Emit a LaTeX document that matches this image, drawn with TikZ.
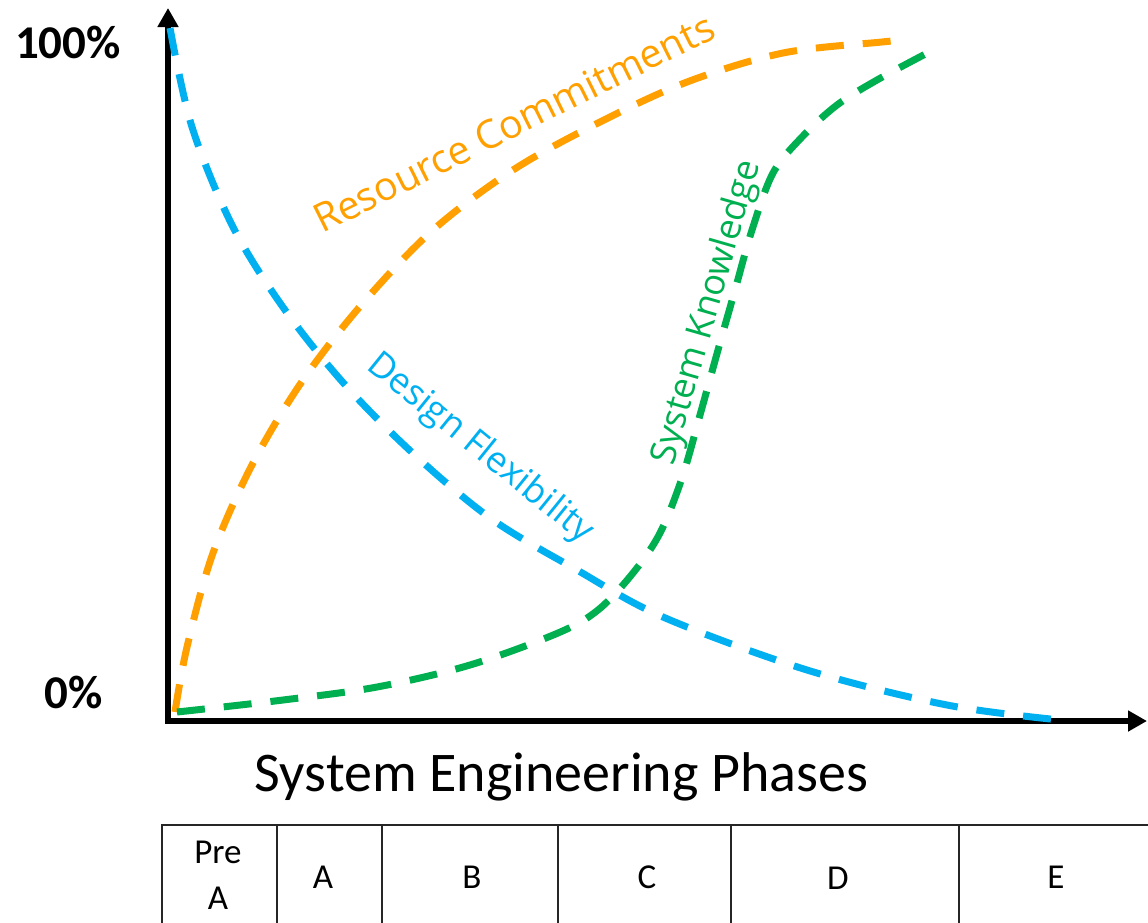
\documentclass[tikz,border=0pt]{standalone}
\usepackage{fontspec}
\setmainfont{Carlito}
\newfontfamily\curvefont{Open Sans}
\usetikzlibrary{arrows.meta}
\definecolor{flexblue}{HTML}{00B0F0}
\definecolor{resorange}{HTML}{FFA000}
\definecolor{knowgreen}{HTML}{00B050}

\begin{document}
\begin{tikzpicture}[x=1pt,y=-1pt,
  axisline/.style={line width=5.8pt, line join=miter,
    {Triangle[length=19pt,width=20pt]}-{Triangle[length=19pt,width=20pt]}},
  curve/.style={line width=7pt, dash pattern=on 28pt off 19pt},
  curvelabel/.style={font=\curvefont\fontsize{36}{40}\selectfont, inner sep=0pt, anchor=base west},
  pct/.style={font=\bfseries\fontsize{47}{50}\selectfont, inner sep=0pt},
  phase/.style={font=\fontsize{35}{46}\selectfont, inner sep=0pt, align=center},
  grid/.style={line width=2pt, black!85}
]
\useasboundingbox (0,0) rectangle (1148,922);

% axes
\coordinate (ytip) at (168,8);
\coordinate (origin) at (168,721);
\coordinate (xtip) at (1147,721);
\draw[axisline] (ytip) -- (origin) -- (xtip);

\node[pct] (hundred) at (68,42) {100\%};
\node[pct] (zero) at (74,692) {0\%};

% curves
\draw[curve, flexblue] plot[smooth, tension=0.55] coordinates {
  (170,28) (192,127) (233,227) (285,310) (347,387) (417,457) (493,520)
  (577,570) (663,617) (807,670) (947,705) (1060,720)};
\draw[curve, resorange] plot[smooth, tension=0.55] coordinates {
  (175,712) (187,647) (213,553) (253,463) (303,380) (363,303) (433,230)
  (513,170) (598,123) (687,82) (783,53) (882,42) (895,41)};
\draw[curve, knowgreen] plot[smooth, tension=0.55] coordinates {
  (177,712) (283,700) (377,687) (470,665) (558,633) (598,610) (633,573)
  (660,533) (682,478) (700,415) (718,350) (735,290) (752,230) (773,173)
  (802,137) (837,105) (877,80) (933,50)};

% curve labels
\node[curvelabel, resorange, rotate=26.5, font=\curvefont\fontsize{39.5}{44}\selectfont] (lres) at (322,234) {Resource Commitments};
\node[curvelabel, flexblue, rotate=-39] (lflex) at (365,368) {Design Flexibility};
\node[curvelabel, knowgreen, rotate=74] (lknow) at (673,467) {System Knowledge};

% axis title
\node[font=\fontsize{56}{60}\selectfont, inner sep=0pt, anchor=base] (title) at (561.5,791) {System Engineering Phases};

% phase table
\coordinate (t0) at (162,825);
\coordinate (tend) at (1152,825);
\draw[grid, line width=2.6pt] (162,926) -- (t0) -- (tend);
\foreach \xx in {277,382,558,731,959}
  \draw[grid] (\xx,825) -- (\xx,926);

\node[phase] (pa) at (218,875) {Pre\\A};
\node[phase] (pA) at (323,877) {A};
\node[phase] (pB) at (472,877) {B};
\node[phase] (pC) at (647,877) {C};
\node[phase] (pD) at (838,878) {D};
\node[phase] (pE) at (1056,877) {E};
\end{tikzpicture}
\end{document}
